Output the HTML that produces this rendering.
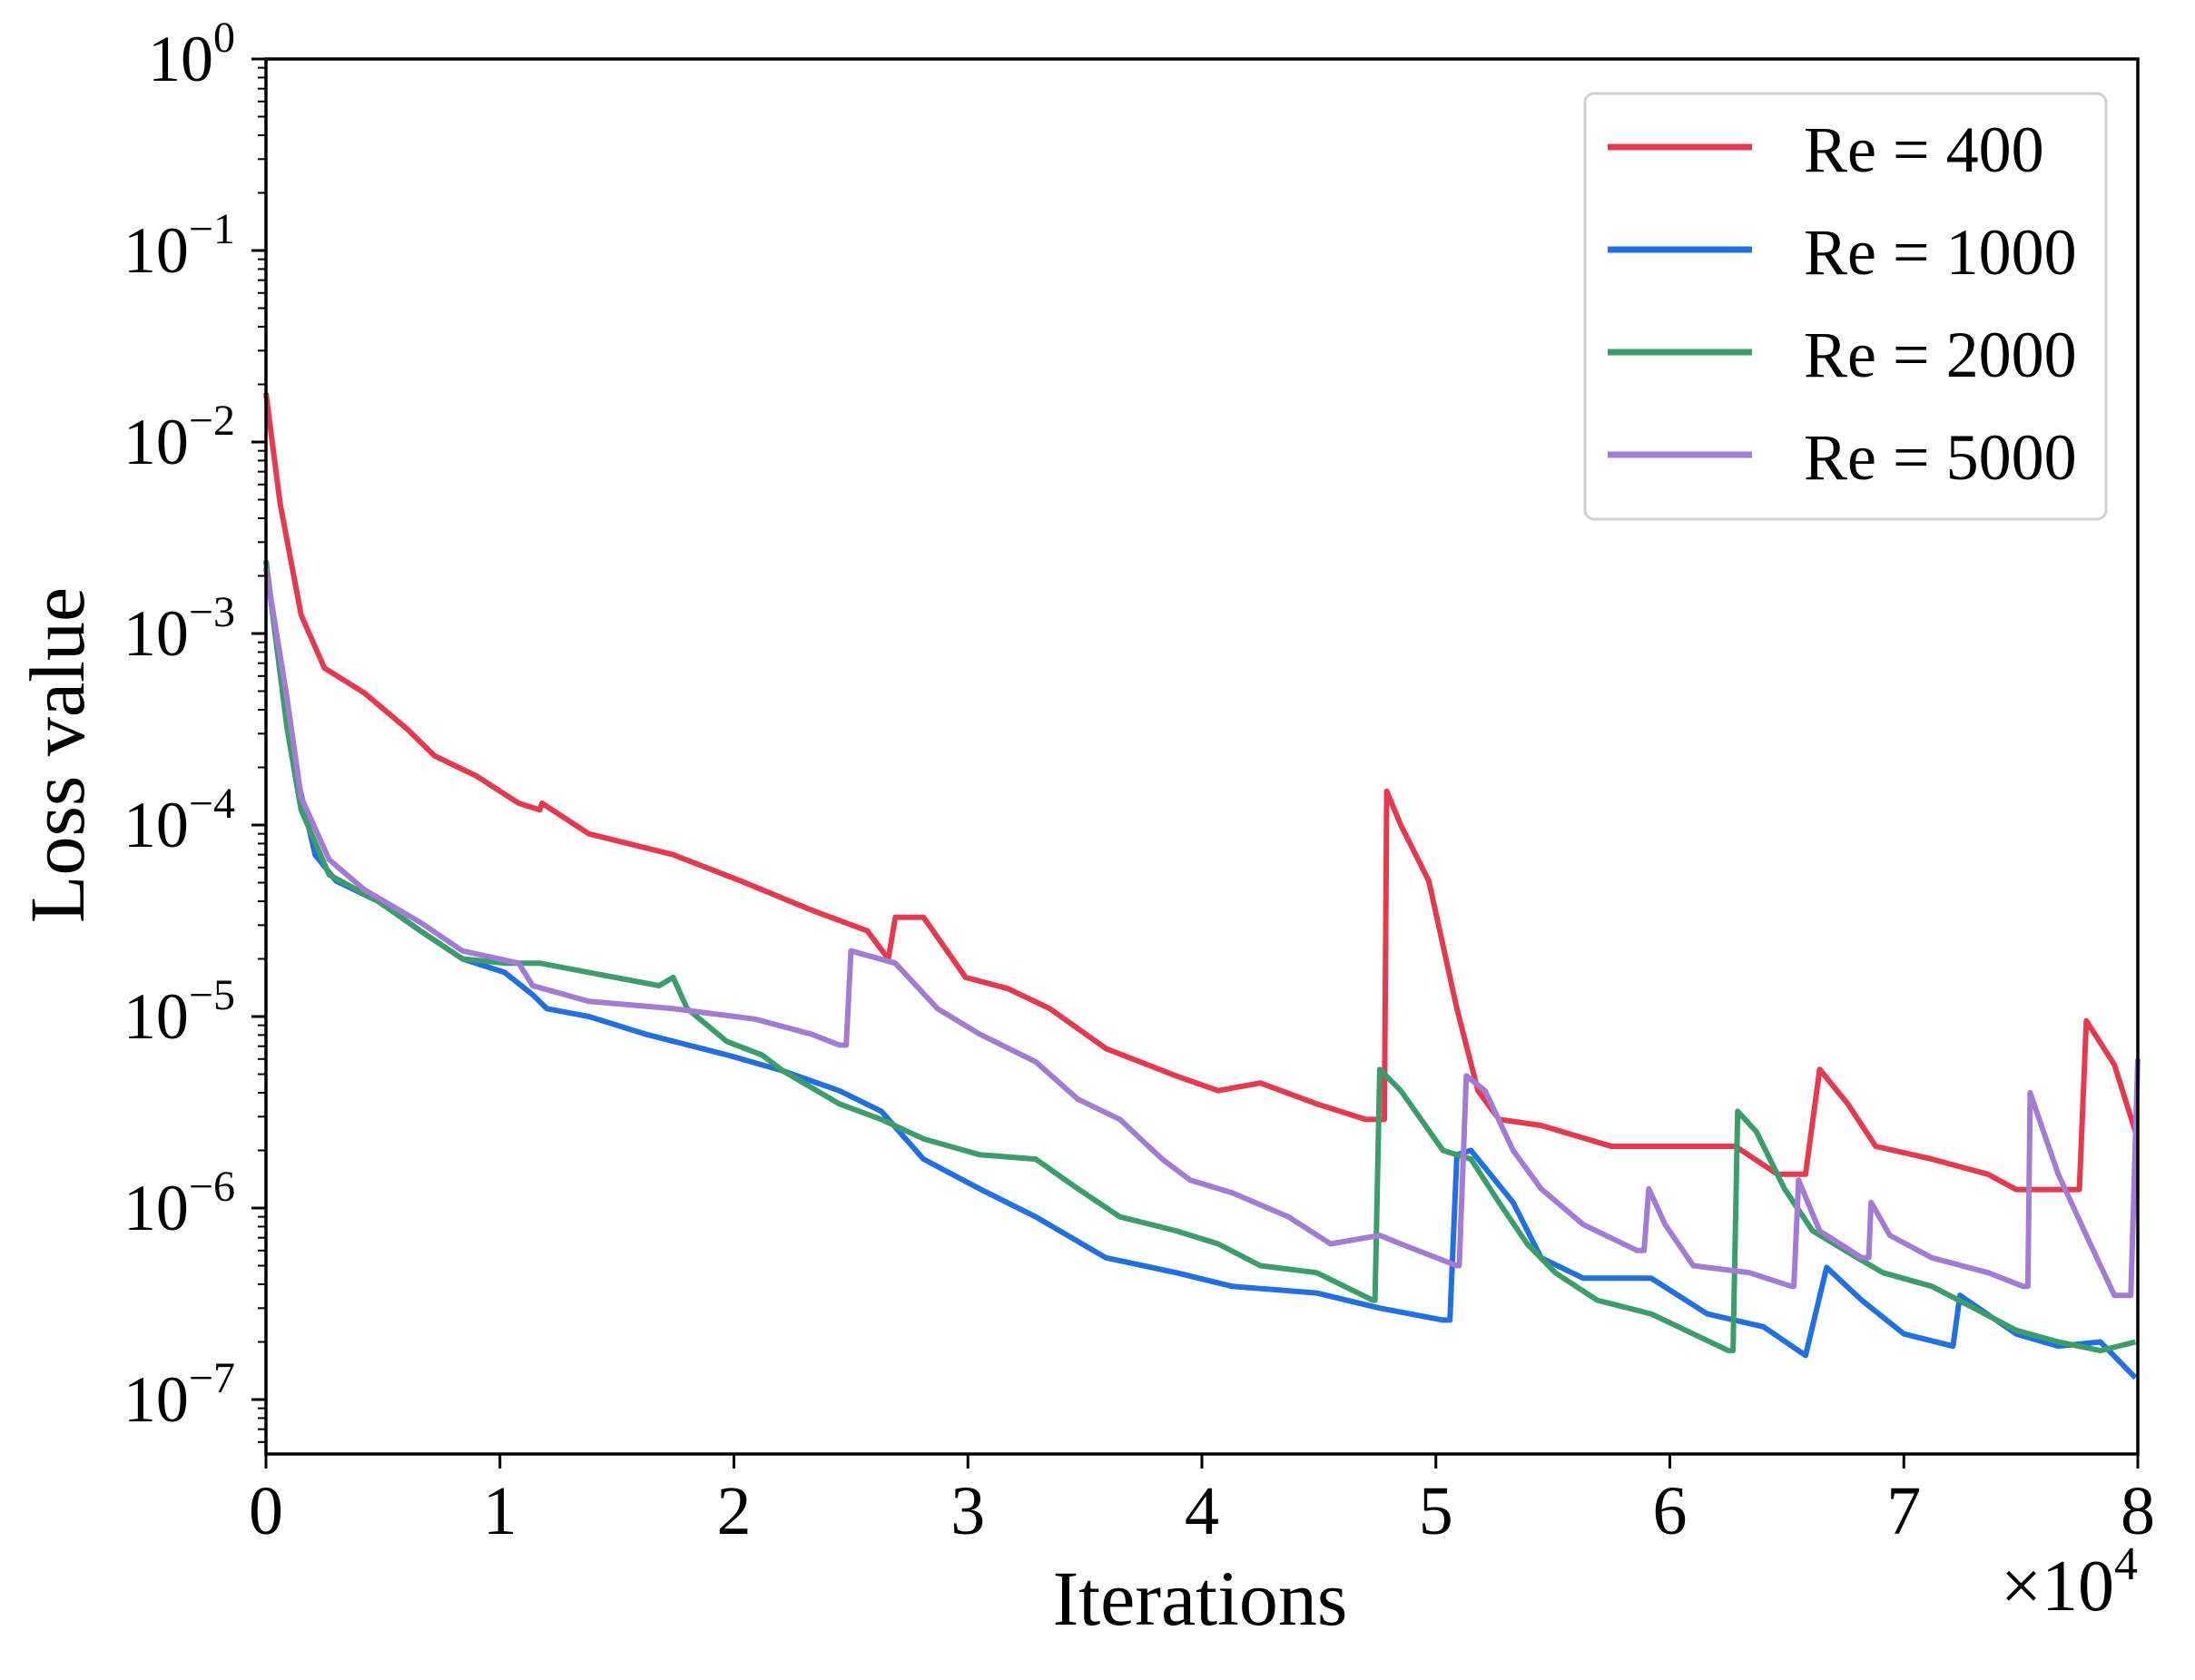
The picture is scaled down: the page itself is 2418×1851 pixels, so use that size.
<!DOCTYPE html>
<html><head><meta charset="utf-8"><style>
html,body{margin:0;padding:0;background:#fff}
svg{display:block}
text{font-family:"Liberation Serif",serif;fill:#000}
</style></head><body>
<svg id="chart" width="2418" height="1851" viewBox="0 0 2418 1851" xmlns="http://www.w3.org/2000/svg">
<rect x="0" y="0" width="2418" height="1851" fill="#fff"/>
<g id="series"></g>
<g id="axes"></g>
<g id="legend"></g>
</svg>
<script>
const xTickLabels = ["0","1","2","3","4","5","6","7","8"];
const yExponents = [0,-1,-2,-3,-4,-5,-6,-7];
const seriesNames = ["Re = 400","Re = 1000","Re = 2000","Re = 5000"];
const seriesColors = ["#e8384f","#1f6fe5","#3a9e6a","#a37ad6"];
// iterations in units of 1e4, loss values
const redIter = [0,.06,.15,.25,.42,.6,.72,.9,1.08,1.17,1.18,1.38,1.74,2.03,2.33,2.57,2.66,2.69,2.81,2.99,3.17,3.35,3.59,3.89,4.07,4.25,4.49,4.70,4.78,4.79,4.85,4.97,5.09,5.18,5.27,5.45,5.75,6.04,6.28,6.46,6.58,6.64,6.76,6.88,7.12,7.36,7.48,7.66,7.75,7.78,7.90,7.99];
const redLoss = [1.8e-2,4.8e-3,1.25e-3,6.6e-4,4.9e-4,3.2e-4,2.3e-4,1.8e-4,1.3e-4,1.2e-4,1.3e-4,9e-5,7e-5,5.1e-5,3.6e-5,2.8e-5,2e-5,3.3e-5,3.3e-5,1.6e-5,1.4e-5,1.1e-5,6.8e-6,4.9e-6,4.1e-6,4.5e-6,3.5e-6,2.9e-6,2.9e-6,1.5e-4,1e-4,5.1e-5,1.1e-5,4.1e-6,2.9e-6,2.7e-6,2.1e-6,2.1e-6,2.1e-6,1.5e-6,1.5e-6,5.3e-6,3.5e-6,2.1e-6,1.8e-6,1.5e-6,1.25e-6,1.25e-6,1.25e-6,9.5e-6,5.6e-6,2.5e-6];
const blueIter = [0,.06,.12,.21,.3,.48,.66,.84,1.02,1.14,1.2,1.38,1.62,1.97,2.21,2.45,2.63,2.81,3.05,3.29,3.59,3.89,4.13,4.49,4.76,5.03,5.06,5.09,5.15,5.33,5.45,5.63,5.92,6.16,6.4,6.58,6.67,6.82,7.0,7.21,7.24,7.48,7.66,7.84,7.99];
const blueLoss = [2.4e-3,6.3e-4,2.1e-4,7e-5,5.1e-5,4e-5,2.8e-5,2e-5,1.7e-5,1.3e-5,1.1e-5,1e-5,8.1e-6,6.3e-6,5.2e-6,4.1e-6,3.2e-6,1.8e-6,1.26e-6,9e-7,5.5e-7,4.6e-7,3.9e-7,3.6e-7,3e-7,2.6e-7,2.6e-7,1.9e-6,2e-6,1.07e-6,5.5e-7,4.3e-7,4.3e-7,2.8e-7,2.4e-7,1.7e-7,4.9e-7,3.3e-7,2.2e-7,1.9e-7,3.5e-7,2.2e-7,1.9e-7,2e-7,1.3e-7];
const greenIter = [0,.09,.15,.27,.48,.66,.84,1.02,1.17,1.38,1.68,1.74,1.8,1.97,2.12,2.21,2.45,2.63,2.81,3.05,3.29,3.47,3.65,3.89,4.07,4.25,4.49,4.73,4.74,4.76,4.85,5.03,5.15,5.27,5.39,5.51,5.69,5.92,6.1,6.25,6.27,6.29,6.37,6.49,6.61,6.76,6.91,7.12,7.3,7.48,7.66,7.84,7.99];
const greenLoss = [2.4e-3,3.2e-4,1.2e-4,5.5e-5,4e-5,2.8e-5,2e-5,1.9e-5,1.9e-5,1.7e-5,1.45e-5,1.6e-5,1.1e-5,7.4e-6,6.3e-6,5.2e-6,3.5e-6,2.9e-6,2.3e-6,1.9e-6,1.8e-6,1.26e-6,9e-7,7.6e-7,6.5e-7,5e-7,4.6e-7,3.3e-7,3.3e-7,5.3e-6,4.1e-6,2e-6,1.8e-6,1.07e-6,6.5e-7,4.6e-7,3.3e-7,2.8e-7,2.2e-7,1.8e-7,1.8e-7,3.2e-6,2.5e-6,1.26e-6,7.6e-7,5.9e-7,4.6e-7,3.9e-7,3e-7,2.3e-7,2e-7,1.8e-7,2e-7];
const purpleIter = [0,.09,.15,.27,.42,.66,.84,1.08,1.14,1.38,1.74,2.09,2.33,2.45,2.48,2.5,2.69,2.87,3.05,3.29,3.47,3.65,3.83,3.95,4.13,4.37,4.55,4.76,4.85,5.09,5.1,5.13,5.21,5.33,5.45,5.63,5.86,5.89,5.91,5.98,6.1,6.34,6.52,6.53,6.55,6.64,6.82,6.85,6.86,6.94,7.12,7.36,7.51,7.53,7.54,7.66,7.78,7.9,7.97,8.0];
const purpleLoss = [2.2e-3,4.6e-4,1.4e-4,6.6e-5,4.6e-5,3.1e-5,2.2e-5,1.9e-5,1.45e-5,1.2e-5,1.1e-5,9.7e-6,8.1e-6,7.1e-6,7.1e-6,2.2e-5,1.9e-5,1.1e-5,8.1e-6,5.8e-6,3.7e-6,2.9e-6,1.8e-6,1.4e-6,1.2e-6,9e-7,6.5e-7,7.2e-7,6.5e-7,5e-7,5e-7,4.9e-6,4.1e-6,2e-6,1.26e-6,8.2e-7,6e-7,6e-7,1.26e-6,8.2e-7,5e-7,4.6e-7,3.9e-7,3.9e-7,1.4e-6,7.6e-7,5.5e-7,5.5e-7,1.07e-6,7.2e-7,5.5e-7,4.6e-7,3.9e-7,3.9e-7,4e-6,1.5e-6,7.2e-7,3.5e-7,3.5e-7,6e-6];

const NS = "http://www.w3.org/2000/svg";
const L = 293, R = 2355, T = 65, B = 1602;
const logMax = 0, logMin = -7 - 60/211;
function xs(v){ return L + (v/8)*(R-L); }
function ys(v){ return T + (logMax - Math.log10(v))/(logMax-logMin)*(B-T); }
function mk(tag, attrs, parent){
  const e = document.createElementNS(NS, tag);
  for (const k in attrs) e.setAttribute(k, attrs[k]);
  parent.appendChild(e);
  return e;
}
const sg = document.getElementById('series');
const ag = document.getElementById('axes');
const lg = document.getElementById('legend');

const allIter = [redIter, blueIter, greenIter, purpleIter];
const allLoss = [redLoss, blueLoss, greenLoss, purpleLoss];
const lineNames = ['line-re-400','line-re-1000','line-re-2000','line-re-5000'];
for (let s = 0; s < 4; s++){
  let d = '';
  for (let i = 0; i < allIter[s].length; i++){
    d += (i ? 'L' : 'M') + xs(allIter[s][i]).toFixed(1) + ' ' + ys(allLoss[s][i]).toFixed(1);
  }
  const p = mk('path', {d: d, fill: 'none', stroke: seriesColors[s], 'stroke-width': 6, 'stroke-linejoin': 'round'}, sg);
  
  
}

const fr = mk('rect', {x: L, y: T, width: R-L, height: B-T, fill: 'none', stroke: '#000', 'stroke-width': 3.5}, ag);



for (let i = 0; i < xTickLabels.length; i++){
  const x = xs(i);
  const t = mk('line', {x1: x, x2: x, y1: B, y2: B+16, stroke: '#000', 'stroke-width': 3}, ag);
  
  
  const lb = mk('text', {x: x, y: 1690, 'font-size': 76, 'text-anchor': 'middle'}, ag);
  lb.textContent = xTickLabels[i];
  
  
}
for (let i = 0; i < yExponents.length; i++){
  const e = yExponents[i];
  const y = ys(Math.pow(10, e));
  const t = mk('line', {x1: L-16, x2: L, y1: y, y2: y, stroke: '#000', 'stroke-width': 3}, ag);
  
  
  const lb = mk('text', {x: 259, y: y+24, 'font-size': 72, 'text-anchor': 'end'}, ag);
  
  
  lb.textContent = '10';
  const sup = mk('tspan', {dy: -32, 'font-size': 48}, lb);
  sup.textContent = e === 0 ? '0' : '\u2212' + (-e);
}
for (let e = -8; e < 0; e++){
  for (let m = 2; m <= 9; m++){
    const v = m * Math.pow(10, e);
    const y = ys(v);
    if (y < T || y > B) continue;
    const t = mk('line', {x1: L-9, x2: L, y1: y, y2: y, stroke: '#000', 'stroke-width': 2}, ag);
    
    
  }
}
const xt = mk('text', {x: 1322, y: 1790, 'font-size': 86, 'text-anchor': 'middle'}, ag);
xt.textContent = 'Iterations';


const yt = mk('text', {x: 0, y: 0, 'font-size': 86, 'text-anchor': 'middle', transform: 'translate(92,832) rotate(-90)'}, ag);
yt.textContent = 'Loss value';


const off = mk('text', {x: 2355, y: 1774, 'font-size': 80, 'text-anchor': 'end'}, ag);


off.textContent = '\u00d710';
const offs = mk('tspan', {dy: -34, 'font-size': 52}, off);
offs.textContent = '4';

const box = mk('rect', {x: 1746, y: 103, width: 574, height: 469, rx: 10, fill: '#fff', 'fill-opacity': 0.9, stroke: '#d0d0d0', 'stroke-width': 3}, lg);


for (let s = 0; s < 4; s++){
  const y = 162 + s*113;
  const ln = mk('line', {x1: 1771, x2: 1930, y1: y, y2: y, stroke: seriesColors[s], 'stroke-width': 7}, lg);
  
  
  const tx = mk('text', {x: 1987, y: y+27, 'font-size': 72}, lg);
  tx.textContent = seriesNames[s];
  
  
}
</script>
</body></html>
